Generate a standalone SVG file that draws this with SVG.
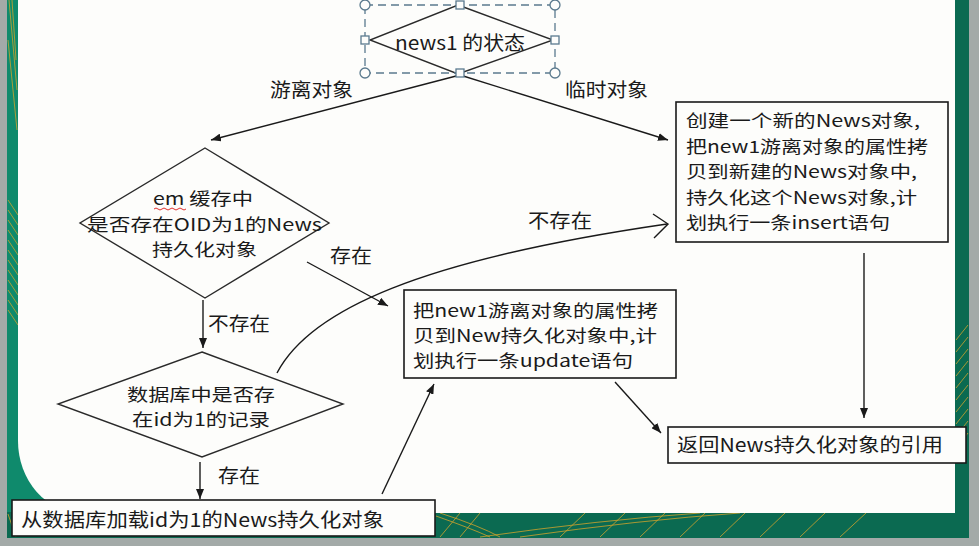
<svg xmlns="http://www.w3.org/2000/svg" width="979" height="546" viewBox="0 0 979 546">
<defs>
<style>
.t{font-family:"Noto Sans CJK SC","Noto Sans",sans-serif;font-size:19px;fill:#1a1a1a}
.m{font-size:17px}
.box{fill:#fdfdfb;stroke:#1a1a1a;stroke-width:1.6}
.dia{fill:none;stroke:#2a2a2a;stroke-width:1.4}
.ln{fill:none;stroke:#1a1a1a;stroke-width:1.4}
.gold{fill:none;stroke:#d9a52a;stroke-width:0.9;opacity:0.85}
.hdl{fill:#fdfdfb;stroke:#5b7a8e;stroke-width:1.3}
</style>
<marker id="arr" markerUnits="userSpaceOnUse" markerWidth="11" markerHeight="8" refX="10" refY="4" orient="auto">
<path d="M0,0 L10,4 L0,8 Z" fill="#1a1a1a"/>
</marker>
</defs>

<g id="background">
<rect x="0" y="0" width="979" height="546" fill="#a3aaa8"/>
<rect x="7" y="0" width="962" height="538" fill="#0f8a6c"/>
<rect x="7" y="512" width="962" height="26" fill="#0b6a51"/>
<rect x="955" y="0" width="14" height="538" fill="#0b6a51"/>
<path class="gold" d="M9,0 L17,90 M12,0 L16,60 M8,40 L17,130 M8,200 L18,215 M8,210 L18,225 M8,220 L18,235 M8,230 L18,245 M8,240 L18,255 M8,250 L18,265 M8,260 L18,275 M8,270 L18,285 M8,280 L18,295 M8,290 L18,305 M8,300 L18,315 M8,310 L18,325"/>
<path class="gold" d="M956,340 L968,325 M956,352 L968,337 M956,364 L968,349 M956,376 L968,361 M956,388 L968,373 M956,400 L968,385 M956,412 L968,397 M956,424 L968,409 M956,436 L968,421 M956,448 L968,433"/>
<path class="gold" d="M440,537 L460,513 M460,537 L480,513 M436,516 Q470,528 490,537 M440,513 Q480,526 500,537 M480,537 Q600,520 700,513 M520,537 Q640,520 740,513 M560,537 L585,513 M600,537 L625,513 M640,537 L665,513 M680,537 L705,513 M720,537 L745,513 M760,537 L785,513 M800,537 L825,513 M840,537 L866,513 M8,514 L16,537"/>
<path d="M18,0 H955 V513 H82 A64 72 0 0 1 18,441 Z" fill="#fdfdfb"/>
</g>

<g id="connectors">
<line class="ln" x1="460" y1="75" x2="211" y2="140" marker-end="url(#arr)"/>
<line class="ln" x1="460" y1="75" x2="668" y2="140" marker-end="url(#arr)"/>
<line class="ln" x1="307" y1="262" x2="388" y2="306" marker-end="url(#arr)"/>
<line class="ln" x1="203" y1="300" x2="203" y2="348" marker-end="url(#arr)"/>
<line class="ln" x1="200" y1="462" x2="200" y2="499" marker-end="url(#arr)"/>
<line class="ln" x1="382" y1="494" x2="434" y2="384" marker-end="url(#arr)"/>
<line class="ln" x1="615" y1="382" x2="661" y2="433" marker-end="url(#arr)"/>
<line class="ln" x1="864" y1="253" x2="864" y2="418" marker-end="url(#arr)"/>
<path class="ln" d="M277,373 C310,310 420,260 667,224"/>
<path class="ln" d="M653,214 L668,224 L654,238"/>
<text class="t" x="270" y="97" textLength="83" lengthAdjust="spacingAndGlyphs">游离对象</text>
<text class="t" x="565" y="97" textLength="83" lengthAdjust="spacingAndGlyphs">临时对象</text>
<text class="t" x="330" y="263" textLength="42" lengthAdjust="spacingAndGlyphs">存在</text>
<text class="t" x="528" y="228" textLength="64" lengthAdjust="spacingAndGlyphs">不存在</text>
<text class="t" x="208" y="331" textLength="62" lengthAdjust="spacingAndGlyphs">不存在</text>
<text class="t" x="218" y="483" textLength="42" lengthAdjust="spacingAndGlyphs">存在</text>
</g>

<g id="node-state">
<polygon class="dia" points="458,5 553,40 458,74 370,40"/>
<rect x="365" y="5" width="190" height="68" fill="none" stroke="#5b7a8e" stroke-width="1.3" stroke-dasharray="8,5"/>
<circle class="hdl" cx="365" cy="5" r="5"/>
<circle class="hdl" cx="555" cy="5" r="5"/>
<circle class="hdl" cx="365" cy="73" r="5"/>
<circle class="hdl" cx="555" cy="73" r="5"/>
<rect class="hdl" x="456" y="1" width="8" height="8"/>
<rect class="hdl" x="361" y="36" width="8" height="8"/>
<rect class="hdl" x="551" y="36" width="8" height="8"/>
<rect class="hdl" x="456" y="69" width="8" height="8"/>
<text class="t" x="395" y="50" textLength="130" lengthAdjust="spacingAndGlyphs">news1 的状态</text>
</g>

<g id="node-cache">
<polygon class="dia" points="205,148 329,223 205,298 80,223"/>
<text class="t m" x="153" y="205" textLength="100" lengthAdjust="spacingAndGlyphs">em 缓存中</text>
<path d="M154,209 q2,-2 4,0 t4,0 t4,0 t4,0 t4,0 t4,0 t4,0 t4,0" fill="none" stroke="#e03030" stroke-width="1"/>
<text class="t m" x="87" y="231" textLength="235" lengthAdjust="spacingAndGlyphs">是否存在OID为1的News</text>
<text class="t m" x="152" y="256" textLength="105" lengthAdjust="spacingAndGlyphs">持久化对象</text>
</g>

<g id="node-db">
<polygon class="dia" points="202,352 343,404 202,457 58,404"/>
<text class="t m" x="127" y="401" textLength="148" lengthAdjust="spacingAndGlyphs">数据库中是否存</text>
<text class="t m" x="132" y="426" textLength="138" lengthAdjust="spacingAndGlyphs">在id为1的记录</text>
</g>

<g id="node-create">
<rect class="box" x="676" y="102" width="272" height="140"/>
<text class="t m" x="686" y="127" textLength="234" lengthAdjust="spacingAndGlyphs">创建一个新的News对象,</text>
<text class="t m" x="686" y="153" textLength="242" lengthAdjust="spacingAndGlyphs">把new1游离对象的属性拷</text>
<text class="t m" x="686" y="178" textLength="231" lengthAdjust="spacingAndGlyphs">贝到新建的News对象中,</text>
<text class="t m" x="686" y="204" textLength="231" lengthAdjust="spacingAndGlyphs">持久化这个News对象,计</text>
<text class="t m" x="686" y="229" textLength="204" lengthAdjust="spacingAndGlyphs">划执行一条insert语句</text>
</g>

<g id="node-update">
<rect class="box" x="404" y="290" width="272" height="88"/>
<text class="t m" x="413" y="317" textLength="245" lengthAdjust="spacingAndGlyphs">把new1游离对象的属性拷</text>
<text class="t m" x="413" y="342" textLength="244" lengthAdjust="spacingAndGlyphs">贝到New持久化对象中,计</text>
<text class="t m" x="413" y="367" textLength="220" lengthAdjust="spacingAndGlyphs">划执行一条update语句</text>
</g>

<g id="node-load">
<rect class="box" x="12" y="500" width="423" height="36"/>
<text class="t" x="21" y="527" textLength="363" lengthAdjust="spacingAndGlyphs">从数据库加载id为1的News持久化对象</text>
</g>

<g id="node-return">
<rect class="box" x="668" y="427" width="298" height="36"/>
<text class="t" x="677" y="452" textLength="266" lengthAdjust="spacingAndGlyphs">返回News持久化对象的引用</text>
</g>
</svg>
